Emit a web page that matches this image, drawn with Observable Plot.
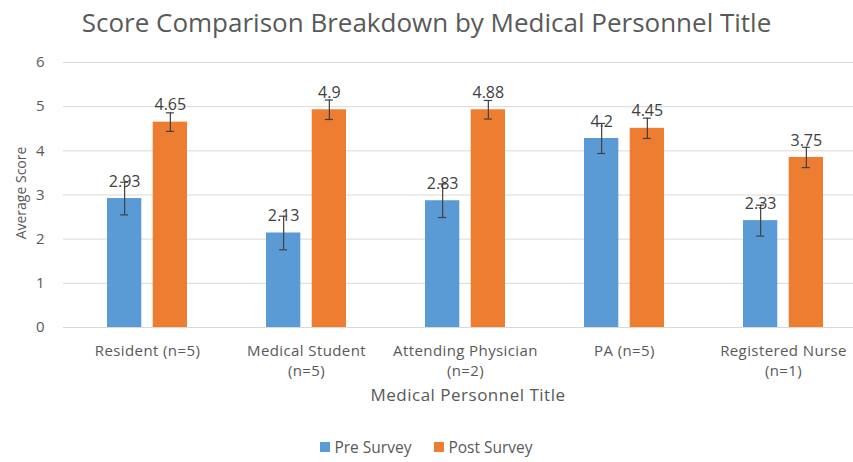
<!DOCTYPE html>
<html>
<head>
<meta charset="utf-8">
<script src="https://cdn.jsdelivr.net/npm/d3@7"></script>
<script src="https://cdn.jsdelivr.net/npm/@observablehq/plot@0.6"></script>
<style>
  html, body { margin: 0; padding: 0; background: #fff; overflow: hidden; }
  body { width: 853px; height: 462px; font-family: "Open Sans", Lato, sans-serif; }
  #title { height: 45px; line-height: 44px; text-align: center; font-size: 26px; color: #595959; }
  #chart svg { display: block; }
  #chart g[aria-label="x-axis tick label"] text { letter-spacing: 0.4px; }
  #chart g.xtitle text { letter-spacing: 0.5px; }
  #legend { display: flex; justify-content: center; align-items: center; gap: 23px; font-size: 15.5px; line-height: 20px; color: #595959; margin-top: 22px; }
  #legend .item { display: flex; align-items: center; gap: 4px; }
  #legend .sw { width: 10px; height: 10px; display: inline-block; }
</style>
</head>
<body>
<div id="title">Score Comparison Breakdown by Medical Personnel Title</div>
<div id="chart"></div>
<div id="legend"></div>
<script>
const categories = ["Resident (n=5)", "Medical Student\n(n=5)", "Attending Physician\n(n=2)", "PA (n=5)", "Registered Nurse\n(n=1)"];
const series = ["Pre Survey", "Post Survey"];
const colors = ["#5B9BD5", "#ED7D31"];
const preValues = [2.92, 2.14, 2.87, 4.28, 2.42];
const postValues = [4.65, 4.93, 4.93, 4.51, 3.85];
const preLabels = ["2.93", "2.13", "2.83", "4.2", "2.33"];
const postLabels = ["4.65", "4.9", "4.88", "4.45", "3.75"];
const preErrors = [0.37, 0.38, 0.38, 0.34, 0.35];
const postErrors = [0.21, 0.22, 0.21, 0.23, 0.23];
const yTicks = [0, 1, 2, 3, 4, 5, 6];

const pre = categories.map((c, i) => ({category: c, series: series[0], value: preValues[i], label: preLabels[i], err: preErrors[i]}));
const post = categories.map((c, i) => ({category: c, series: series[1], value: postValues[i], label: postLabels[i], err: postErrors[i]}));

const off = 22.85;
const textColor = "#595959";

function seriesMarks(data, dx, color) {
  return [
    Plot.barY(data, {x: "category", y: "value", fill: color, insetLeft: 22.85, insetRight: 22.85, dx}),
    Plot.ruleX(data, {x: "category", y1: d => d.value - d.err, y2: d => d.value + d.err, stroke: "#404040", strokeWidth: 1.2, dx}),
    Plot.tickY(data, {x: "category", y: d => d.value - d.err, stroke: "#404040", strokeWidth: 1.2, insetLeft: 36, insetRight: 36, dx}),
    Plot.tickY(data, {x: "category", y: d => d.value + d.err, stroke: "#404040", strokeWidth: 1.2, insetLeft: 36, insetRight: 36, dx}),
    Plot.text(data, {x: "category", y: "value", text: "label", dx, dy: -17, fontSize: 16, fill: "#404040"})
  ];
}

const chart = Plot.plot({
  width: 853,
  height: 370,
  marginLeft: 63,
  marginRight: -13,
  marginTop: 17,
  marginBottom: 88,
  style: {fontFamily: "'Open Sans', Lato, sans-serif", color: textColor, background: "#fff"},
  x: {domain: categories, paddingInner: 0.5, paddingOuter: 0.267, label: null},
  y: {domain: [0, 6], label: null},
  marks: [
    Plot.ruleY(yTicks, {stroke: "#d9d9d9", strokeWidth: 1}),
    ...seriesMarks(pre, -off, colors[0]),
    ...seriesMarks(post, off, colors[1]),
    Plot.axisY({ticks: yTicks, tickSize: 0, tickPadding: 19, fontSize: 15, label: null, tickFormat: d3.format("d")}),
    Plot.axisX({tickSize: 0, tickPadding: 15, fontSize: 15, lineHeight: 1.3, label: null}),
    Plot.text(["Average Score"], {frameAnchor: "left", rotate: -90, dx: -42, dy: -2, textAnchor: "middle", lineAnchor: "middle", fontSize: 14, fill: textColor}),
    Plot.text(["Medical Personnel Title"], {frameAnchor: "bottom", dy: 68, dx: 3, textAnchor: "middle", lineAnchor: "middle", fontSize: 17, fill: textColor, className: "xtitle"})
  ]
});
document.getElementById("chart").appendChild(chart);

const legend = document.getElementById("legend");
series.forEach((s, i) => {
  const item = document.createElement("span");
  item.className = "item";
  const sw = document.createElement("span");
  sw.className = "sw";
  sw.style.background = colors[i];
  const t = document.createElement("span");
  t.textContent = s;
  item.appendChild(sw);
  item.appendChild(t);
  legend.appendChild(item);
});
</script>
</body>
</html>
